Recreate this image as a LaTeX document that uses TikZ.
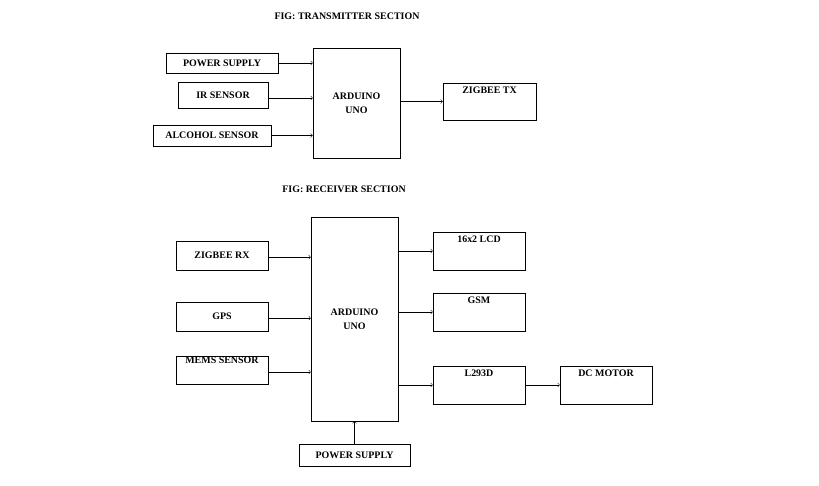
\documentclass[tikz,border=0pt]{standalone}
\usepackage{fontspec}
\setmainfont{Liberation Serif}
\usetikzlibrary{arrows,positioning}

\begin{document}
\begin{tikzpicture}[x=0.03cm, y=-0.03cm, font=\fontsize{8.5}{10}\selectfont\bfseries,
  blk/.style={draw=black, rectangle, inner sep=0pt, align=center},
  ->, >=to]
  \useasboundingbox (0,0) rectangle (819,486);

  % transmitter
  \node at (347,16) (TxTitle) {FIG: TRANSMITTER SECTION};
  \node[blk, minimum width=3.36cm, minimum height=0.6cm] at (222,63) (psTx) {POWER SUPPLY};
  \node[blk, minimum width=2.7cm, minimum height=0.78cm] at (223,95) (ir) {IR SENSOR};
  \node[blk, minimum width=3.54cm, minimum height=0.63cm] at (212,135.5) (alc) {ALCOHOL SENSOR};
  \node[blk, minimum width=2.61cm, minimum height=3.3cm] at (356.5,103) (ardTx) {ARDUINO\\[2pt]UNO};
  \node[blk, minimum width=2.79cm, minimum height=1.11cm] at (489.5,101.5) (zbTx) {ZIGBEE TX\\[10pt]};

  \draw (psTx.east) -- (psTx.east -| ardTx.west);
  \draw ([yshift=-0.09cm]ir.east) -- ([yshift=-0.09cm]ir.east -| ardTx.west);
  \draw (alc.east) -- (alc.east -| ardTx.west);
  \draw (ardTx.east |- zbTx.west) -- (zbTx.west);

  % receiver
  \node at (344,189) (RxTitle) {FIG: RECEIVER SECTION};
  \node[blk, minimum width=2.61cm, minimum height=6.12cm] at (354.5,319) (ardRx) {ARDUINO\\[2pt]UNO};
  \node[blk, minimum width=2.76cm, minimum height=0.87cm] at (222,255.5) (zbRx) {ZIGBEE RX};
  \node[blk, minimum width=2.76cm, minimum height=0.87cm] at (222,316.5) (gps) {GPS};
  \node[blk, minimum width=2.76cm, minimum height=0.84cm] at (222,370) (mems) {MEMS SENSOR\\[6pt]};
  \node[blk, minimum width=2.76cm, minimum height=1.14cm] at (479,251) (lcd) {16x2 LCD\\[10pt]};
  \node[blk, minimum width=2.76cm, minimum height=1.14cm] at (479,312) (gsm) {GSM\\[10pt]};
  \node[blk, minimum width=2.76cm, minimum height=1.14cm] at (479,385) (l293) {L293D\\[10pt]};
  \node[blk, minimum width=2.76cm, minimum height=1.14cm] at (606,385) (motor) {DC MOTOR\\[10pt]};
  \node[blk, minimum width=3.33cm, minimum height=0.66cm] at (354.5,455) (psRx) {POWER SUPPLY};

  \draw ([yshift=-0.05cm]zbRx.east) -- ([yshift=-0.05cm]zbRx.east -| ardRx.west);
  \draw ([yshift=-0.05cm]gps.east) -- ([yshift=-0.05cm]gps.east -| ardRx.west);
  \draw ([yshift=-0.06cm]mems.east) -- ([yshift=-0.06cm]mems.east -| ardRx.west);
  \draw (ardRx.east |- lcd.west) -- (lcd.west);
  \draw (ardRx.east |- gsm.west) -- (gsm.west);
  \draw (ardRx.east |- l293.west) -- (l293.west);
  \draw (l293) -- (motor);
  \draw (psRx) -- (ardRx);
\end{tikzpicture}
\end{document}
